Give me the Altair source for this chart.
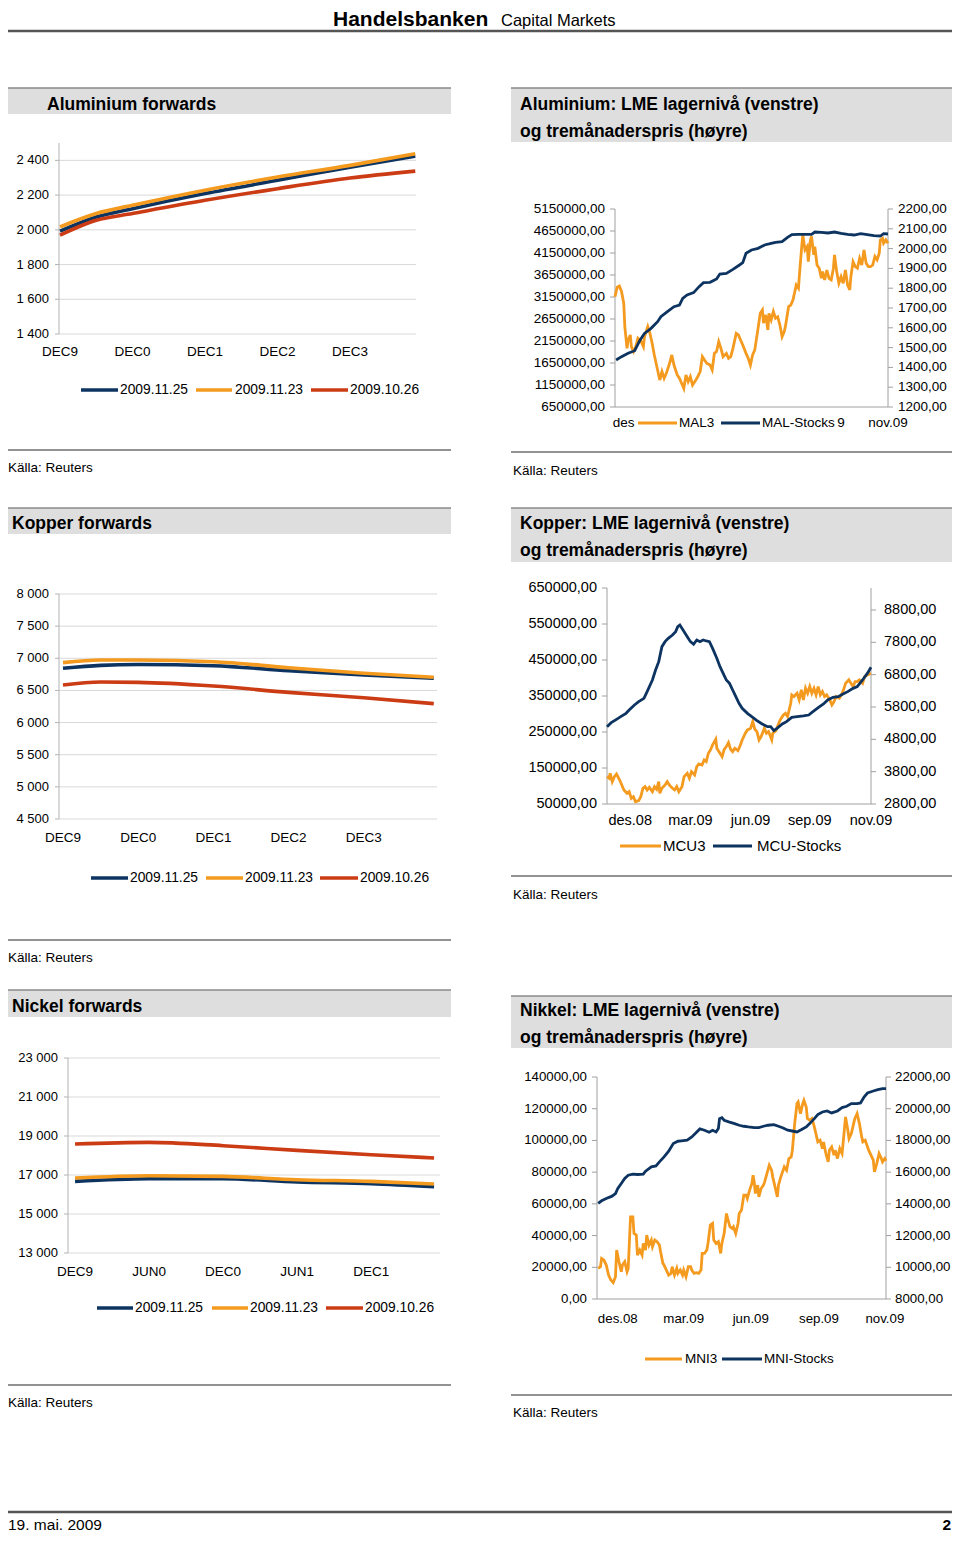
import altair as alt
import pandas as pd

FONT = "Liberation Sans"
NAVY = "#0d3461"
ORANGE = "#f39a1f"
RED = "#cc3c14"
GRID = "#d9d9d9"
AXIS = "#b3b3b3"
LAXIS = "#a0a0a0"
BARFILL = "#dedede"
BARLINE = "#8a8a8a"
RULE = "#6e6e6e"

SERIES = ["2009.11.25", "2009.11.23", "2009.10.26"]

# ---------------- Forward curves ----------------
al_x = [0, 0.5, 1, 2, 3, 4, 4.9]
al_1125 = [1992, 2074, 2122, 2209, 2285, 2361, 2425]
al_1123 = [2017, 2094, 2141, 2228, 2304, 2371, 2438]
al_1026 = [1969, 2055, 2094, 2170, 2237, 2298, 2338]
al_yticks = [1400, 1600, 1800, 2000, 2200, 2400]
al_ylabels = ["1 400", "1 600", "1 800", "2 000", "2 200", "2 400"]
al_xticks = [0, 1, 2, 3, 4]
al_xlabels = ["DEC9", "DEC0", "DEC1", "DEC2", "DEC3"]

cu_x = [0, 0.5, 1, 2, 3, 4, 4.93]
cu_1125 = [6844, 6890, 6903, 6885, 6807, 6740, 6689]
cu_1123 = [6932, 6973, 6973, 6947, 6854, 6767, 6705]
cu_1026 = [6584, 6630, 6626, 6569, 6470, 6387, 6294]
cu_yticks = [4500, 5000, 5500, 6000, 6500, 7000, 7500, 8000]
cu_ylabels = ["4 500", "5 000", "5 500", "6 000", "6 500", "7 000", "7 500", "8 000"]
cu_xticks = [0, 1, 2, 3, 4]
cu_xlabels = ["DEC9", "DEC0", "DEC1", "DEC2", "DEC3"]

ni_x = [0, 1, 2, 3, 4, 4.85]
ni_1125 = [16672, 16810, 16810, 16641, 16554, 16400]
ni_1123 = [16846, 16964, 16928, 16759, 16672, 16538]
ni_1026 = [18590, 18672, 18503, 18262, 18041, 17872]
ni_yticks = [13000, 15000, 17000, 19000, 21000, 23000]
ni_ylabels = ["13 000", "15 000", "17 000", "19 000", "21 000", "23 000"]
ni_xticks = [0, 1, 2, 3, 4]
ni_xlabels = ["DEC9", "JUN0", "DEC0", "JUN1", "DEC1"]

# ---------------- LME stocks (left) and 3M price (right) ----------------
al_stock_day = [1, 6, 12, 18, 23, 27, 33, 39, 42, 48, 54, 59, 62, 66, 72, 77, 81, 87, 93, 96,
                102, 108, 114, 117, 120, 125, 131, 137, 141, 147, 153, 158, 162, 168, 174, 180, 183, 189, 195, 201,
                207, 213, 219, 225, 231, 237, 243, 246, 250]
al_stock = [1718000, 1794000, 1870000, 1930000, 2173000, 2324000, 2438000, 2589000, 2703000, 2817000,
            2930000, 2968000, 3120000, 3196000, 3249000, 3385000, 3476000, 3483000, 3559000, 3673000,
            3688000, 3779000, 3877000, 3930000, 4143000, 4218000, 4256000, 4332000, 4355000, 4393000,
            4408000, 4506000, 4567000, 4574000, 4574000, 4574000, 4627000, 4620000, 4605000, 4627000,
            4597000, 4574000, 4559000, 4590000, 4567000, 4544000, 4536000, 4590000, 4582000]
al_px_day = [0, 2, 4, 6, 8, 9, 11, 12, 14, 15, 17, 19, 21, 24, 26, 27, 30, 32, 34, 36,
             39, 41, 43, 45, 47, 50, 52, 54, 57, 59, 61, 63, 65, 67, 69, 71, 73, 75, 78, 80,
             82, 84, 87, 89, 91, 93, 95, 97, 99, 102, 104, 106, 108, 111, 113, 115, 117, 120, 122, 124,
             126, 128, 131, 133, 135, 136, 138, 140, 141, 143, 145, 147, 149, 151, 153, 155, 156, 159, 161, 163,
             165, 166, 168, 169, 170, 171, 172, 174, 176, 177, 179, 180, 182, 183, 185, 187, 189, 190, 192, 194,
             196, 198, 200, 201, 203, 205, 207, 209, 211, 213, 215, 216, 218, 220, 222, 224, 226, 228, 230, 232,
             234, 236, 238, 240, 242, 243, 245, 246, 248, 250]
al_px = [1757, 1805, 1811, 1783, 1724, 1606, 1496, 1538, 1564, 1505, 1480, 1505, 1547, 1530, 1505, 1555, 1606, 1572, 1522, 1463,
         1387, 1336, 1379, 1345, 1370, 1421, 1463, 1412, 1362, 1345, 1320, 1294, 1362, 1328, 1353, 1311, 1328, 1345, 1379, 1454,
         1437, 1421, 1412, 1387, 1471, 1480, 1530, 1496, 1454, 1471, 1446, 1454, 1496, 1572, 1564, 1538, 1513, 1471, 1446, 1412,
         1463, 1488, 1597, 1673, 1690, 1623, 1665, 1589, 1673, 1640, 1682, 1648, 1656, 1614, 1555, 1581, 1606, 1707, 1715, 1741,
         1791, 1816, 1800, 1875, 1943, 2010, 2069, 1993, 2010, 1934, 2044, 2061, 1968, 2010, 1917, 1901, 1850, 1884, 1842, 1892,
         1850, 1842, 1901, 1968, 1884, 1825, 1858, 1825, 1892, 1816, 1791, 1858, 1934, 1909, 1901, 1951, 1917, 1993, 1926, 1909,
         1909, 1917, 1960, 1943, 1977, 2044, 2052, 2027, 2044, 2027]
al_lticks = [650000, 1150000, 1650000, 2150000, 2650000, 3150000, 3650000, 4150000, 4650000, 5150000]
al_llabels = ["650000,00", "1150000,00", "1650000,00", "2150000,00", "2650000,00", "3150000,00",
              "3650000,00", "4150000,00", "4650000,00", "5150000,00"]
al_rticks = [1200, 1300, 1400, 1500, 1600, 1700, 1800, 1900, 2000, 2100, 2200]
al_rlabels = ["1200,00", "1300,00", "1400,00", "1500,00", "1600,00", "1700,00",
              "1800,00", "1900,00", "2000,00", "2100,00", "2200,00"]
# the legend box hides most of this axis; only these fragments are visible
al_xpos = [8, 207, 250]
al_xlab = ["des", "9", "nov.09"]

cu_stock_day = [0, 4, 9, 13, 18, 21, 26, 30, 35, 38, 43, 46, 49, 52, 55, 58, 62, 65, 67, 69,
                72, 76, 79, 82, 85, 88, 91, 94, 97, 100, 104, 107, 110, 113, 116, 119, 122, 125, 128, 133,
                138, 142, 147, 152, 155, 158, 161, 166, 170, 175, 180, 186, 191, 195, 200, 205, 209, 214, 219, 223,
                228, 233, 237, 242, 247, 250]
cu_stock = [264800, 275900, 285200, 292600, 301900, 311100, 325000, 334300, 343500, 362100,
            394500, 422300, 445400, 487100, 501000, 510200, 519500, 528700, 542600, 547300,
            533400, 514900, 501000, 493600, 505600, 501000, 505600, 502800, 501000, 482400,
            454700, 431500, 413000, 394500, 385200, 366700, 348200, 329700, 315800, 301900,
            290800, 281500, 272200, 264800, 264800, 253700, 260200, 272200, 278700, 290800,
            292600, 294500, 297200, 306500, 317600, 327800, 338900, 346300, 348200, 354700,
            362100, 371300, 376000, 394500, 414800, 429700]
cu_px_day = [0, 2, 3, 5, 7, 9, 12, 14, 16, 19, 21, 23, 25, 27, 30, 32, 34, 36, 38, 40,
             43, 45, 47, 49, 50, 52, 55, 57, 59, 62, 64, 66, 68, 71, 73, 76, 78, 80, 83, 85,
             87, 90, 92, 94, 96, 98, 100, 103, 104, 107, 109, 111, 113, 115, 117, 119, 121, 124, 126, 128,
             131, 133, 136, 138, 140, 142, 144, 146, 149, 151, 153, 156, 157, 160, 162, 164, 167, 169, 171, 174,
             175, 177, 180, 182, 184, 186, 188, 190, 192, 194, 196, 198, 200, 202, 204, 206, 208, 211, 213, 215,
             217, 220, 222, 224, 226, 229, 231, 233, 235, 237, 239, 242, 244, 247, 250]
cu_px = [3646, 3595, 3749, 3491, 3646, 3729, 3543, 3388, 3233, 3130, 3182, 2975, 3027, 2872, 2903, 3027, 3285, 3337, 3233, 3316,
         3182, 3337, 3254, 3491, 3130, 3285, 3388, 3491, 3388, 3285, 3233, 3337, 3182, 3337, 3646, 3749, 3595, 3801, 3698, 3956,
         4038, 4007, 4162, 4111, 4369, 4472, 4627, 4802, 4523, 4369, 4265, 4492, 4575, 4699, 4492, 4420, 4523, 4451, 4596, 4781,
         4988, 5091, 5143, 5349, 5112, 5039, 4781, 4885, 5143, 4988, 5039, 4781, 4988, 5070, 5246, 5401, 5555, 5607, 5504, 5917,
         6175, 6123, 6226, 6020, 6329, 6020, 6381, 6226, 6433, 6226, 6381, 6175, 6433, 6175, 6278, 6123, 6175, 6020, 5865, 5968,
         6123, 6071, 6175, 6329, 6536, 6639, 6536, 6433, 6587, 6587, 6639, 6536, 6742, 6794, 6845]
cu_lticks = [50000, 150000, 250000, 350000, 450000, 550000, 650000]
cu_llabels = ["50000,00", "150000,00", "250000,00", "350000,00", "450000,00", "550000,00", "650000,00"]
cu_rticks = [2800, 3800, 4800, 5800, 6800, 7800, 8800]
cu_rlabels = ["2800,00", "3800,00", "4800,00", "5800,00", "6800,00", "7800,00", "8800,00"]
cu_xpos = [22, 79, 136, 192, 250]
cu_xlab = ["des.08", "mar.09", "jun.09", "sep.09", "nov.09"]

ni_stock_day = [1, 4, 8, 13, 16, 18, 21, 24, 27, 31, 35, 40, 42, 47, 51, 54, 58, 62, 66, 70,
                73, 78, 82, 85, 89, 93, 97, 100, 103, 105, 106, 108, 110, 114, 119, 123, 127, 131, 136, 140,
                144, 148, 153, 157, 161, 165, 170, 173, 177, 181, 184, 188, 191, 195, 199, 203, 208, 212, 216, 220,
                225, 228, 231, 234, 239, 243, 247, 250]
ni_stock = [60240, 61920, 63390, 64860, 66540, 69690, 72840, 75980, 78080, 78710,
            78500, 78710, 80600, 83330, 83960, 86480, 89630, 93200, 98020, 99490,
            99700, 100120, 102220, 104320, 107260, 106420, 105160, 106420, 105370, 107470,
            113770, 114400, 112720, 111670, 110620, 109570, 108940, 108520, 108100, 108100,
            108940, 109570, 109990, 108940, 107890, 106420, 105790, 105370, 106840, 108520,
            110620, 113770, 116280, 117960, 118590, 117330, 118590, 120690, 121530, 123210,
            123210, 123630, 127410, 129930, 131190, 132030, 132660, 132660]
ni_px_day = [1, 3, 4, 6, 8, 10, 12, 14, 16, 17, 19, 21, 22, 24, 26, 27, 29, 31, 32, 34,
             35, 37, 39, 40, 42, 43, 45, 47, 48, 50, 52, 54, 55, 57, 58, 60, 62, 64, 65, 67,
             69, 70, 72, 74, 75, 77, 79, 81, 82, 84, 86, 88, 90, 91, 93, 95, 96, 98, 100, 101,
             103, 105, 107, 108, 110, 112, 113, 115, 117, 118, 120, 122, 123, 125, 127, 129, 130, 132, 134, 135,
             136, 137, 139, 140, 142, 144, 145, 147, 149, 151, 152, 154, 156, 157, 159, 161, 162, 164, 166, 168,
             169, 171, 173, 174, 176, 178, 179, 181, 182, 184, 186, 188, 190, 191, 193, 195, 196, 198, 200, 201,
             203, 205, 206, 208, 210, 212, 213, 215, 217, 218, 220, 222, 223, 225, 227, 229, 230, 232, 234, 235,
             237, 239, 240, 242, 244, 246, 247, 249, 250]
ni_px = [9931, 10036, 10561, 10456, 10141, 9511, 9196, 9029, 9406, 11086, 10351, 9721, 10141, 10351, 9721, 9931, 13185, 13185, 12135, 12030,
         10771, 11086, 10771, 11505, 11086, 12030, 11400, 11715, 11295, 11715, 11610, 11400, 10981, 10246, 10141, 9826, 9511, 9616, 10036, 9511,
         9931, 9616, 9826, 9511, 9826, 9406, 10036, 10036, 9826, 9616, 9658, 9616, 9826, 10876, 10876, 11086, 11505, 12660, 12765, 11715,
         11505, 11610, 10876, 11505, 12135, 13394, 13080, 12555, 12450, 12555, 12135, 12765, 13394, 13604, 14549, 14549, 14339, 14864, 15284, 15808,
         15388, 14654, 15179, 14444, 14969, 15179, 15388, 15913, 16438, 16123, 15703, 15074, 14444, 15179, 15703, 16123, 16333, 16123, 16858, 16963,
         17383, 19062, 20321, 20426, 19691, 20321, 20531, 20111, 19377, 19272, 19377, 18852, 18222, 17907, 18012, 17487, 17907, 17173, 16648, 17383,
         17592, 17068, 17383, 16858, 17487, 17173, 17907, 19482, 18642, 18117, 18432, 19062, 19377, 19691, 19062, 18222, 17907, 18012, 17592, 17383,
         17068, 16753, 16018, 16543, 17173, 16858, 16648, 16858, 16711]
ni_lticks = [0, 20000, 40000, 60000, 80000, 100000, 120000, 140000]
ni_llabels = ["0,00", "20000,00", "40000,00", "60000,00", "80000,00", "100000,00", "120000,00", "140000,00"]
ni_rticks = [8000, 10000, 12000, 14000, 16000, 18000, 20000, 22000]
ni_rlabels = ["8000,00", "10000,00", "12000,00", "14000,00", "16000,00", "18000,00", "20000,00", "22000,00"]
ni_xpos = [18, 75, 133, 192, 249]
ni_xlab = ["des.08", "mar.09", "jun.09", "sep.09", "nov.09"]

W = 944   # drawing width (page minus body margins)
RIGHT = 944

ONE = pd.DataFrame({"k": [0]})
layers = []


def add(c):
    layers.append(c)


def txt(s, x, y, size=13.5, weight="normal", align="left", baseline="middle", color="#000000"):
    add(alt.Chart(ONE).mark_text(text=s, align=align, baseline=baseline, fontSize=size,
                                 fontWeight=weight, font=FONT, color=color)
        .encode(x=alt.value(x), y=alt.value(y)))


def hline(x1, x2, y, color, w):
    add(alt.Chart(ONE).mark_rule(color=color, strokeWidth=w)
        .encode(x=alt.value(x1), x2=alt.value(x2), y=alt.value(y)))


def vline(x, y1, y2, color, w):
    add(alt.Chart(ONE).mark_rule(color=color, strokeWidth=w)
        .encode(x=alt.value(x), y=alt.value(y1), y2=alt.value(y2)))


def box(x1, x2, y1, y2, fill):
    add(alt.Chart(ONE).mark_rect(color=fill)
        .encode(x=alt.value(x1), x2=alt.value(x2), y=alt.value(y1), y2=alt.value(y2)))


def header_bar(x1, x2, y1, y2, lines, tx, base0, lh=27):
    box(x1, x2, y1, y2, BARFILL)
    hline(x1, x2, y1, BARLINE, 1.5)
    for i, s in enumerate(lines):
        txt(s, tx, base0 + i * lh, size=17.5, weight="bold", baseline="alphabetic")


def source(x, rule_y, rule_x2, text_y):
    hline(x if x > 0 else 0, rule_x2, rule_y, RULE, 1.5)
    txt("Källa: Reuters", x + 2 if x > 0 else 0, text_y, size=13.5)


def legend_item(x1, x2, tx, y, color, label, size, w=3.5):
    hline(x1, x2, y, color, w)
    txt(label, tx, y, size=size)


def forward(xv, a, b, c, yticks, ylabels, xticks, xlabels, ydom, yrng, xdom, xrng, lab_x, xlab_y,
            leg_y, leg):
    ys = alt.Scale(domain=ydom, range=yrng, zero=False, nice=False)
    xs = alt.Scale(domain=xdom, range=xrng, zero=False, nice=False)
    g = pd.DataFrame({"v": yticks, "lab": ylabels})
    add(alt.Chart(g).mark_rule(color=GRID, strokeWidth=1)
        .encode(y=alt.Y("v:Q", scale=ys, axis=None), x=alt.value(xrng[0]), x2=alt.value(xrng[1])))
    add(alt.Chart(g).mark_rule(color=AXIS, strokeWidth=1)
        .encode(y=alt.Y("v:Q", scale=ys, axis=None), x=alt.value(xrng[0] - 4), x2=alt.value(xrng[0])))
    vline(xrng[0], yrng[1], yrng[0], AXIS, 1)
    add(alt.Chart(g).mark_text(align="right", baseline="middle", fontSize=13, font=FONT, color="#000")
        .encode(y=alt.Y("v:Q", scale=ys, axis=None), x=alt.value(lab_x), text="lab:N"))
    xd = pd.DataFrame({"p": xticks, "lab": xlabels})
    add(alt.Chart(xd).mark_text(align="center", baseline="middle", fontSize=13.5, font=FONT, color="#000")
        .encode(x=alt.X("p:Q", scale=xs, axis=None), y=alt.value(xlab_y), text="lab:N"))
    df = pd.concat([
        pd.DataFrame({"x": xv, "v": a, "s": SERIES[0]}),
        pd.DataFrame({"x": xv, "v": b, "s": SERIES[1]}),
        pd.DataFrame({"x": xv, "v": c, "s": SERIES[2]}),
    ], ignore_index=True)
    add(alt.Chart(df).mark_line(strokeWidth=3.6, interpolate="monotone")
        .encode(x=alt.X("x:Q", scale=xs, axis=None), y=alt.Y("v:Q", scale=ys, axis=None),
                color=alt.Color("s:N", scale=alt.Scale(domain=SERIES, range=[NAVY, ORANGE, RED]), legend=None)))
    cols = [NAVY, ORANGE, RED]
    for (x1, x2, tx), col, lab in zip(leg, cols, SERIES):
        legend_item(x1, x2, tx, leg_y, col, lab, 13.8)


def lme(ld, lv, rd, rv, ldom, rdom, yrng, xrng, lt, ll, rt, rl, xp, xl, fs,
        llab_x, rlab_x, xlab_y):
    xs = alt.Scale(domain=[0, 250], range=xrng, zero=False, nice=False)
    yl = alt.Scale(domain=ldom, range=yrng, zero=False, nice=False)
    yr = alt.Scale(domain=rdom, range=yrng, zero=False, nice=False)
    vline(xrng[0], yrng[1], yrng[0], LAXIS, 1)
    vline(xrng[1], yrng[1], yrng[0], LAXIS, 1)
    hline(xrng[0], xrng[1], yrng[0], LAXIS, 1)
    ldf = pd.DataFrame({"v": lt, "lab": ll})
    rdf = pd.DataFrame({"v": rt, "lab": rl})
    add(alt.Chart(ldf).mark_rule(color=LAXIS, strokeWidth=1)
        .encode(y=alt.Y("v:Q", scale=yl, axis=None), x=alt.value(xrng[0] - 5), x2=alt.value(xrng[0])))
    add(alt.Chart(rdf).mark_rule(color=LAXIS, strokeWidth=1)
        .encode(y=alt.Y("v:Q", scale=yr, axis=None), x=alt.value(xrng[1]), x2=alt.value(xrng[1] + 5)))
    add(alt.Chart(ldf).mark_text(align="right", baseline="middle", fontSize=fs, font=FONT, color="#000")
        .encode(y=alt.Y("v:Q", scale=yl, axis=None), x=alt.value(llab_x), text="lab:N"))
    add(alt.Chart(rdf).mark_text(align="left", baseline="middle", fontSize=fs, font=FONT, color="#000")
        .encode(y=alt.Y("v:Q", scale=yr, axis=None), x=alt.value(rlab_x), text="lab:N"))
    xd = pd.DataFrame({"p": xp, "lab": xl})
    add(alt.Chart(xd).mark_text(align="center", baseline="middle", fontSize=fs, font=FONT, color="#000")
        .encode(x=alt.X("p:Q", scale=xs, axis=None), y=alt.value(xlab_y), text="lab:N"))
    add(alt.Chart(pd.DataFrame({"d": rd, "v": rv})).mark_line(color=ORANGE, strokeWidth=2.8)
        .encode(x=alt.X("d:Q", scale=xs, axis=None), y=alt.Y("v:Q", scale=yr, axis=None)))
    add(alt.Chart(pd.DataFrame({"d": ld, "v": lv})).mark_line(color=NAVY, strokeWidth=2.8)
        .encode(x=alt.X("d:Q", scale=xs, axis=None), y=alt.Y("v:Q", scale=yl, axis=None)))


# ---------------- Page header ----------------
txt("Handelsbanken", 325, 18, size=21, weight="bold", baseline="alphabetic")
txt("Capital Markets", 493, 18, size=16.5, baseline="alphabetic")
hline(0, RIGHT, 23, "#555555", 2.5)

# ---------------- Row 1 ----------------
header_bar(0, 443, 80, 106, ["Aluminium forwards"], 39, 102)
forward(al_x, al_1125, al_1123, al_1026, al_yticks, al_ylabels, al_xticks, al_xlabels,
        [1400, 2500], [326, 135], [-0.014, 4.91], [51, 408], 41, 344,
        382, [(73, 110, 112), (188, 224, 227), (303, 340, 342)])
source(0, 442, 443, 460)

header_bar(503, RIGHT, 80, 134, ["Aluminium: LME lagernivå (venstre)", "og tremånaderspris (høyre)"], 512, 102)
lme(al_stock_day, al_stock, al_px_day, al_px, [650000, 5150000], [1200, 2200], [399, 201], [607, 880],
    al_lticks, al_llabels, al_rticks, al_rlabels, al_xpos, al_xlab, 13.5, 597, 890, 415)
legend_item(630, 669, 671, 415, ORANGE, "MAL3", 13.5, 3)
legend_item(713, 752, 754, 415, NAVY, "MAL-Stocks", 13.5, 3)
source(503, 444, RIGHT, 463)

# ---------------- Row 2 ----------------
header_bar(0, 443, 500, 526, ["Kopper forwards"], 4, 521)
forward(cu_x, cu_1125, cu_1123, cu_1026, cu_yticks, cu_ylabels, cu_xticks, cu_xlabels,
        [4500, 8000], [811, 586], [-0.053, 4.973], [51, 429], 41, 830,
        870, [(83, 120, 122), (198, 235, 237), (312, 350, 352)])
source(0, 932, 443, 950)

header_bar(503, RIGHT, 500, 554, ["Kopper: LME lagernivå (venstre)", "og tremånaderspris (høyre)"], 512, 521)
lme(cu_stock_day, cu_stock, cu_px_day, cu_px, [50000, 650000], [2800, 9480], [796, 580], [599, 863],
    cu_lticks, cu_llabels, cu_rticks, cu_rlabels, cu_xpos, cu_xlab, 14.5, 589, 876, 813)
legend_item(612, 653, 655, 838, ORANGE, "MCU3", 15, 3)
legend_item(705, 744, 749, 838, NAVY, "MCU-Stocks", 15, 3)
source(503, 868, RIGHT, 887)

# ---------------- Row 3 ----------------
header_bar(0, 443, 982, 1009, ["Nickel forwards"], 4, 1004)
forward(ni_x, ni_1125, ni_1123, ni_1026, ni_yticks, ni_ylabels, ni_xticks, ni_xlabels,
        [13000, 23000], [1245, 1050], [-0.095, 4.93], [60, 432], 50, 1264,
        1300, [(89, 125, 127), (204, 240, 242), (318, 355, 357)])
source(0, 1377, 443, 1395)

header_bar(503, RIGHT, 988, 1040, ["Nikkel: LME lagernivå (venstre)", "og tremånaderspris (høyre)"], 512, 1008)
lme(ni_stock_day, ni_stock, ni_px_day, ni_px, [0, 140000], [8000, 22000], [1291, 1069], [589, 878],
    ni_lticks, ni_llabels, ni_rticks, ni_rlabels, ni_xpos, ni_xlab, 13.3, 579, 887, 1311)
legend_item(637, 674, 677, 1351, ORANGE, "MNI3", 13.5, 3)
legend_item(714, 754, 756, 1351, NAVY, "MNI-Stocks", 13.5, 3)
source(503, 1387, RIGHT, 1405)

# ---------------- Footer ----------------
hline(0, RIGHT, 1504, "#555555", 2.5)
txt("19. mai. 2009", 0, 1517, size=15.5)
txt("2", RIGHT - 1, 1517, size=15.5, weight="bold", align="right")

chart = (
    alt.layer(*layers)
    .resolve_scale(x="independent", y="independent")
    .properties(width=W, height=1526, autosize=alt.AutoSizeParams(type="none"), padding=0,
                background="#ffffff")
    .configure_view(stroke=None)
)

chart.save("out.html", embed_options={"renderer": "svg", "actions": False})
